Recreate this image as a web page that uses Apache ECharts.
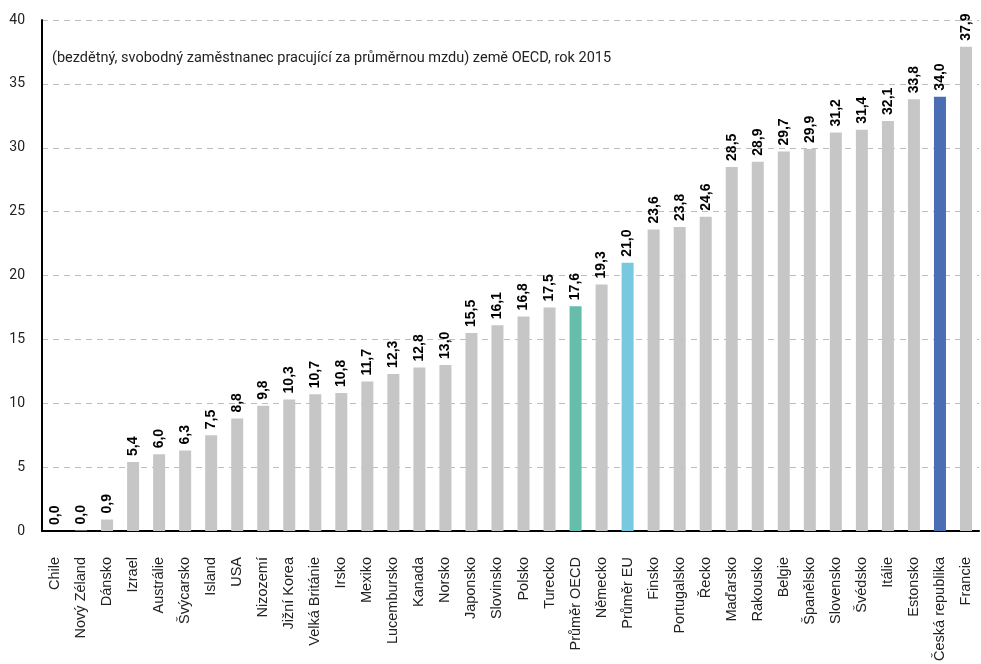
<!DOCTYPE html>
<html><head><meta charset="utf-8">
<script src="https://cdn.jsdelivr.net/npm/echarts@6/dist/echarts.min.js"></script>
<style>html,body{margin:0;padding:0;background:#fff}#c{width:981px;height:664px}</style>
</head><body><div id="c"></div>
<script>
const categories = ["Chile","Nový Zéland","Dánsko","Izrael","Austrálie","Švýcarsko","Island","USA","Nizozemí","Jižní Korea","Velká Británie","Irsko","Mexiko","Lucembursko","Kanada","Norsko","Japonsko","Slovinsko","Polsko","Turecko","Průměr OECD","Německo","Průměr EU","Finsko","Portugalsko","Řecko","Maďarsko","Rakousko","Belgie","Španělsko","Slovensko","Švédsko","Itálie","Estonsko","Česká republika","Francie"];
const values = [0.0,0.04,0.9,5.4,6.0,6.3,7.5,8.8,9.8,10.3,10.7,10.8,11.7,12.3,12.8,13.0,15.5,16.1,16.8,17.5,17.6,19.3,21.0,23.6,23.8,24.6,28.5,28.9,29.7,29.9,31.2,31.4,32.1,33.8,34.0,37.9];
const highlight = {"Průměr OECD":"#66bdaa","Průměr EU":"#78c8df","Česká republika":"#4a6db3"};
const subtitle = "(bezdětný, svobodný zaměstnanec pracující za průměrnou mzdu) země OECD, rok 2015";

const chart = echarts.init(document.getElementById('c'));
chart.setOption({
  animation:false,
  title:{text:subtitle,left:47,top:46,textStyle:{fontFamily:'Roboto',fontSize:14.5,fontWeight:'normal',color:'#222'}},
  grid:{left:42,right:2,top:20,bottom:131,containLabel:false},
  xAxis:{type:'category',data:categories,
    axisLine:{lineStyle:{color:'#000',width:2}},axisTick:{show:false},
    axisLabel:{rotate:90,margin:26,fontFamily:'Liberation Sans',fontSize:14.5,color:'#222',interval:0}},
  yAxis:{type:'value',min:0,max:40,interval:5,
    axisLine:{show:true,lineStyle:{color:'#000',width:2}},axisTick:{show:false},
    axisLabel:{margin:17,fontFamily:'Roboto',fontSize:14,color:'#222'},
    splitLine:{lineStyle:{color:'#bdbdbd',type:[6,5],width:1}}},
  series:[{type:'bar',barWidth:12,
    data:values.map((v,i)=>({value:v,itemStyle:{color:highlight[categories[i]]||'#c6c6c6'}})),
    label:{show:true,position:'top',rotate:90,align:'left',verticalAlign:'middle',distance:6,
      fontFamily:'Liberation Sans',fontWeight:'bold',fontSize:14,color:'#000',
      formatter:p=>p.value.toFixed(1).replace('.',',')}}]
});
</script></body></html>
